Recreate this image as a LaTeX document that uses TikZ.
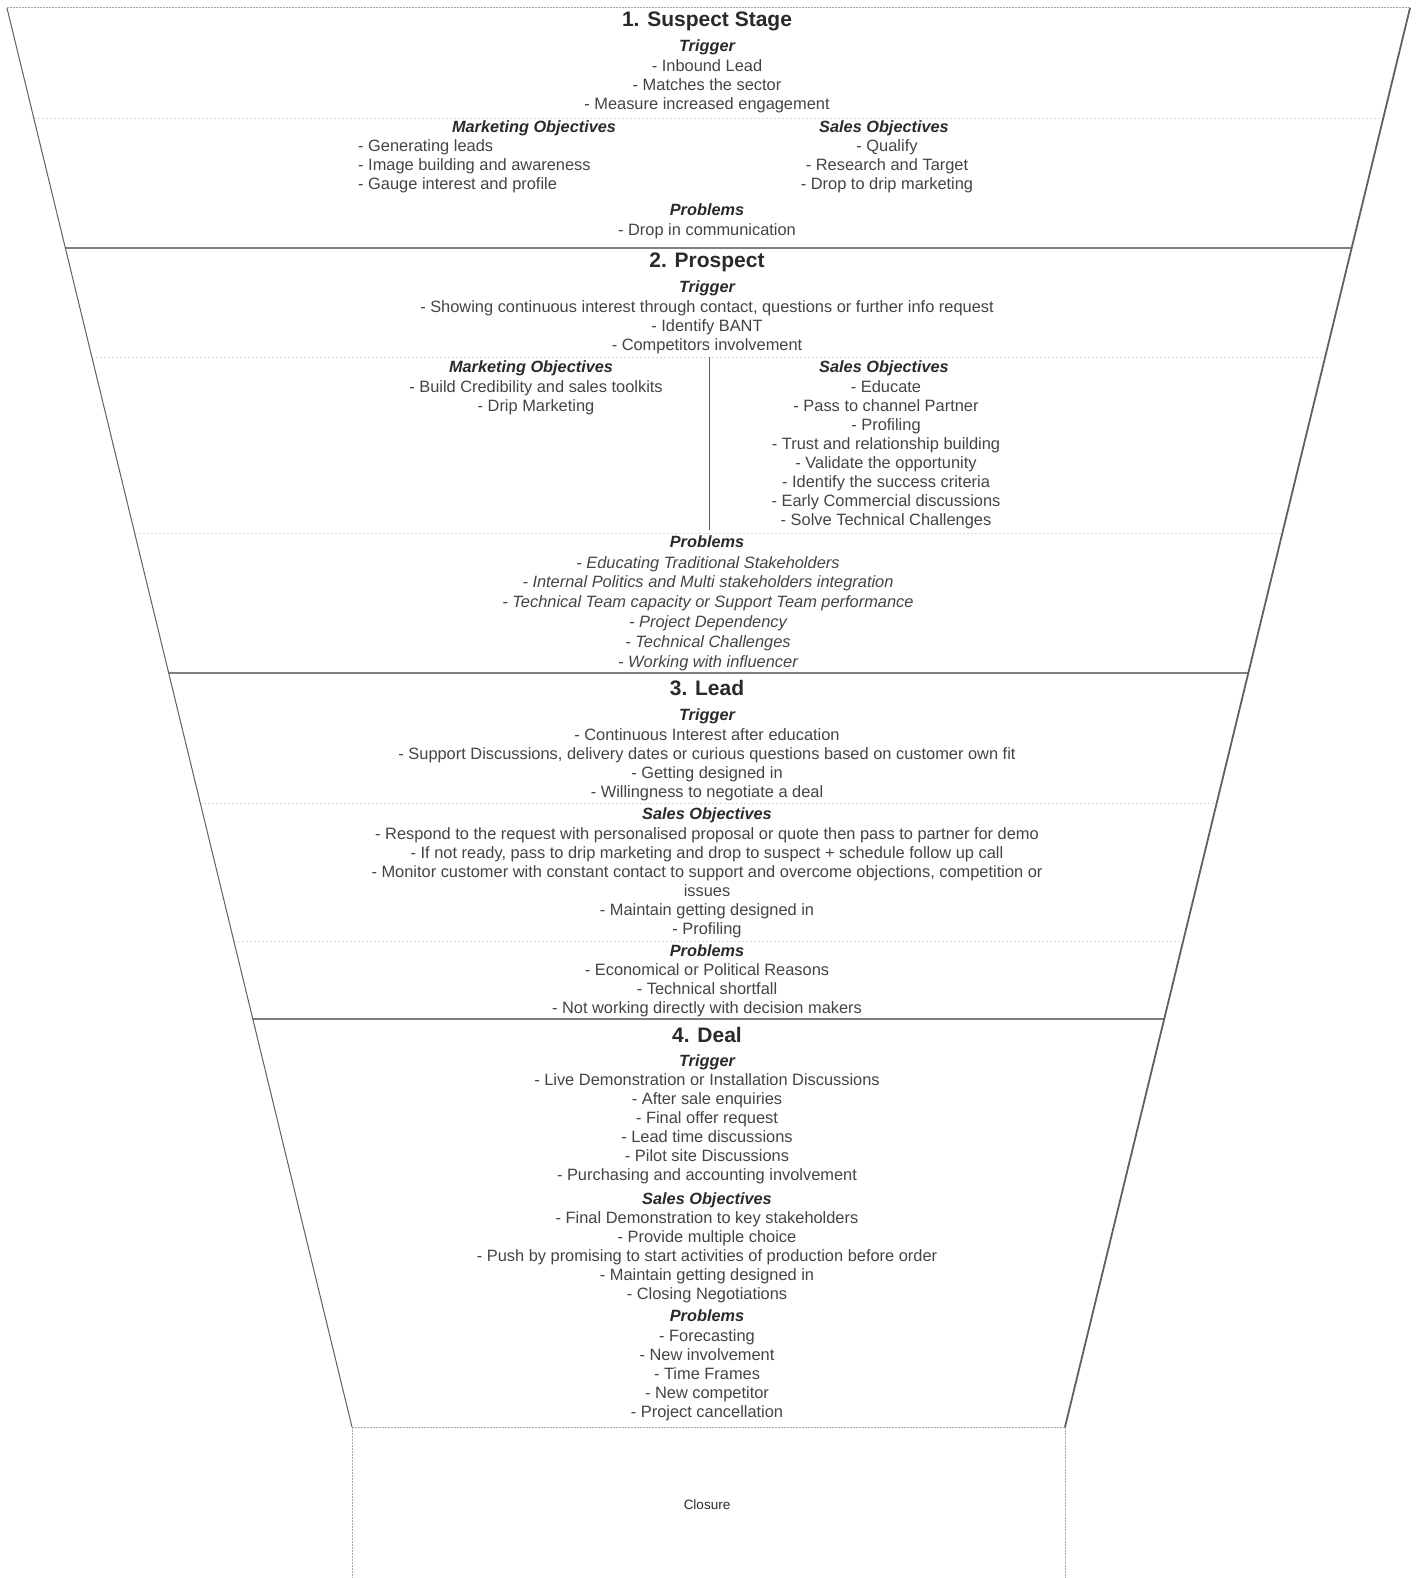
\documentclass[tikz,border=0pt]{standalone}
\usepackage{fontspec}
\setmainfont{Liberation Sans}
\definecolor{txt}{HTML}{444444}
\definecolor{hd}{HTML}{2A2A2A}
\definecolor{edge}{HTML}{606060}
\definecolor{sep}{HTML}{D8D8D8}
\begin{document}
\begin{tikzpicture}[x=1pt,y=-1pt,
  body/.style={font=\fontsize{16.4}{19}\selectfont, text=txt, align=center, anchor=base, inner sep=0pt},
  bodyit/.style={body, font=\fontsize{16.4}{19.8}\selectfont\itshape},
  bodyl/.style={body, align=left, anchor=base west},
  head/.style={font=\fontsize{16.3}{19}\selectfont\bfseries\itshape, text=hd, anchor=base, inner sep=0pt},
  ttl/.style={font=\fontsize{21}{24}\selectfont\bfseries, text=hd, anchor=base, inner sep=0pt},
  funnel/.style={draw=edge, line width=1.2pt},
  border/.style={draw=edge!80, line width=1.8pt},
  faint/.style={draw=sep, line width=0.8pt, dash pattern=on 2pt off 2pt},
  faintdark/.style={draw=black!35, line width=1pt, dash pattern=on 2pt off 1pt}]
\fill[white] (0,0) rectangle (1416,1578);
\useasboundingbox (0,0) rectangle (1416,1578);
% funnel geometry
\coordinate (tl) at (7,8);
\coordinate (tr) at (1410,8);
\coordinate (bl) at (352,1427);
\coordinate (br) at (1065,1427);
\coordinate (b1l) at (65.3,248);  \coordinate (b1r) at (1351.7,248);
\coordinate (b2l) at (168.7,673); \coordinate (b2r) at (1248.3,673);
\coordinate (b3l) at (252.8,1019);\coordinate (b3r) at (1164.2,1019);
\coordinate (cl) at (352,1582);   \coordinate (cr) at (1065,1582);
% faint separators
\draw[faint] (33.7,118) -- (1383.3,118);
\draw[faint] (91.8,357) -- (1325.2,357);
\draw[faint] (134.6,533) -- (1282.4,533);
\draw[faint] (200.3,803) -- (1216.7,803);
\draw[faint] (233.8,941) -- (1183.2,941);
% closure box
\draw[faintdark] (bl) -- (br);
\draw[faintdark] (bl) -- (cl);
\draw[faintdark] (br) -- (cr);
\draw[faintdark] (tl) -- (tr);
% section borders
\draw[border] (b1l) -- (b1r);
\draw[border] (b2l) -- (b2r);
\draw[border] (b3l) -- (b3r);
% funnel sides
\draw[funnel, line width=1pt] (tl) -- (bl);
\draw[funnel, line width=1.8pt] (tr) -- (br);
% divider in section 2
\draw[draw=edge, line width=1pt] (709.5,357) -- (709.5,530);

% ---- Section 1
\node[ttl] (t1) at (707,27) {1. Suspect Stage};
\node[head] (s1trh) at (707,52) {Trigger};
\node[body] (s1tr) at (707,110) {- Inbound Lead\\- Matches the sector\\- Measure increased engagement};
\node[head] (s1moh) at (534,133) {Marketing Objectives};
\node[bodyl] (s1mo) at (358,190) {- Generating leads\\- Image building and awareness\\- Gauge interest and profile};
\node[head] (s1soh) at (884,133) {Sales Objectives};
\node[body] (s1so) at (887,190) {- Qualify\\- Research and Target\\- Drop to drip marketing};
\node[head] (s1ph) at (707,216) {Problems};
\node[body] (s1p) at (707,236) {- Drop in communication};

% ---- Section 2
\node[ttl] (t2) at (707,268) {2. Prospect};
\node[head] (s2trh) at (707,293) {Trigger};
\node[body] (s2tr) at (707,350) {- Showing continuous interest through contact, questions or further info request\\- Identify BANT\\- Competitors involvement};
\node[head] (s2moh) at (531,372) {Marketing Objectives};
\node[body] (s2mo) at (536,411) {- Build Credibility and sales toolkits\\- Drip Marketing};
\node[head] (s2soh) at (884,372) {Sales Objectives};
\node[body] (s2so) at (886,525) {- Educate\\- Pass to channel Partner\\- Profiling\\- Trust and relationship building\\- Validate the opportunity\\- Identify the success criteria\\- Early Commercial discussions\\- Solve Technical Challenges};
\node[head] (s2ph) at (707,547) {Problems};
\node[bodyit] (s2p) at (708,667) {- Educating Traditional Stakeholders\\- Internal Politics and Multi stakeholders integration\\- Technical Team capacity or Support Team performance\\- Project Dependency\\- Technical Challenges\\- Working with influencer};

% ---- Section 3
\node[ttl] (t3) at (707,695) {3. Lead};
\node[head] (s3trh) at (707,720) {Trigger};
\node[body] (s3tr) at (707,797) {- Continuous Interest after education\\- Support Discussions, delivery dates or curious questions based on customer own fit\\- Getting designed in\\- Willingness to negotiate a deal};
\node[head] (s3soh) at (707,819) {Sales Objectives};
\node[body] (s3so) at (707,934) {- Respond to the request with personalised proposal or quote then pass to partner for demo\\- If not ready, pass to drip marketing and drop to suspect + schedule follow up call\\- Monitor customer with constant contact to support and overcome objections, competition or\\issues\\- Maintain getting designed in\\- Profiling};
\node[head] (s3ph) at (707,956) {Problems};
\node[body] (s3p) at (707,1013) {- Economical or Political Reasons\\- Technical shortfall\\- Not working directly with decision makers};

% ---- Section 4
\node[ttl] (t4) at (707,1042) {4. Deal};
\node[head] (s4trh) at (707,1066) {Trigger};
\node[body] (s4tr) at (707,1180) {- Live Demonstration or Installation Discussions\\- After sale enquiries\\- Final offer request\\- Lead time discussions\\- Pilot site Discussions\\- Purchasing and accounting involvement};
\node[head] (s4soh) at (707,1204) {Sales Objectives};
\node[body] (s4so) at (707,1299) {- Final Demonstration to key stakeholders\\- Provide multiple choice\\- Push by promising to start activities of production before order\\- Maintain getting designed in\\- Closing Negotiations};
\node[head] (s4ph) at (707,1321) {Problems};
\node[body] (s4p) at (707,1417) {- Forecasting\\- New involvement\\- Time Frames\\- New competitor\\- Project cancellation};

% ---- Closure
\node[font=\fontsize{13.5}{16}\selectfont, text=hd, anchor=base, inner sep=0pt] (cls) at (707,1509) {Closure};
\end{tikzpicture}
\end{document}
